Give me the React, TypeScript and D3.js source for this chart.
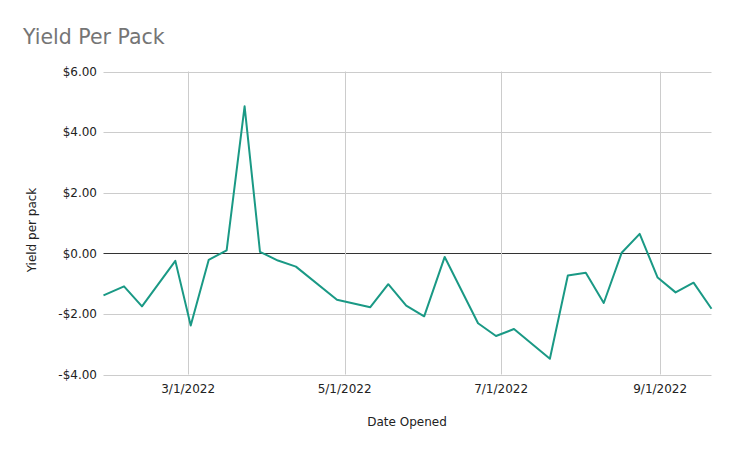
import React from "react";
import * as d3 from "d3";

const dates: string[] = [
  "2022-01-27", "2022-02-04", "2022-02-11", "2022-02-24", "2022-03-02",
  "2022-03-09", "2022-03-16", "2022-03-23", "2022-03-29", "2022-04-05",
  "2022-04-12", "2022-04-28", "2022-05-11", "2022-05-18", "2022-05-25",
  "2022-06-01", "2022-06-09", "2022-06-22", "2022-06-29", "2022-07-06",
  "2022-07-20", "2022-07-27", "2022-08-03", "2022-08-10", "2022-08-17",
  "2022-08-24", "2022-08-31", "2022-09-07", "2022-09-14", "2022-09-21",
];
const yields: number[] = [
  -1.39, -1.09, -1.75, -0.25, -2.38,
  -0.22, 0.1, 4.85, 0.05, -0.24,
  -0.44, -1.53, -1.78, -1.02, -1.73,
  -2.08, -0.12, -2.31, -2.73, -2.5,
  -3.48, -0.73, -0.64, -1.64, 0.02,
  0.64, -0.8, -1.29, -0.97, -1.83,
];
const yTicks: number[] = [-4, -2, 0, 2, 4, 6];
const xTickDates: string[] = ["2022-03-01", "2022-05-01", "2022-07-01", "2022-09-01"];
const xTickLabels: string[] = ["3/1/2022", "5/1/2022", "7/1/2022", "9/1/2022"];

const W = 734;
const H = 453;
const M = { left: 103.5, right: 711.5, top: 71.5, bottom: 374.5 };
const FONT = "'DejaVu Sans', Verdana, sans-serif";

const parse = (s: string) => {
  const [y, m, d] = s.split("-").map(Number);
  return new Date(y, m - 1, d);
};

export default function App() {
  const pts = dates.map((d, i) => ({ date: parse(d), value: yields[i] }));
  const x = d3
    .scaleTime()
    .domain(d3.extent(pts, (p) => p.date) as [Date, Date])
    .range([M.left, M.right]);
  const y = d3.scaleLinear().domain([-4, 6]).range([M.bottom, M.top]);
  const line = d3
    .line<{ date: Date; value: number }>()
    .x((p) => x(p.date))
    .y((p) => y(p.value));
  const fmt = (v: number) => (v < 0 ? "-$" : "$") + Math.abs(v).toFixed(2);

  return (
    <svg
      width={W}
      height={H}
      style={{ position: "absolute", left: 0, top: 0, background: "#fff" }}
      fontFamily={FONT}
    >
      <text x={23} y={44} fontSize={20.5} fill="#757575">
        Yield Per Pack
      </text>
      {yTicks.map((t) => (
        <g key={t}>
          <line
            x1={M.left}
            x2={M.right}
            y1={Math.round(y(t)) + 0.5}
            y2={Math.round(y(t)) + 0.5}
            stroke={t === 0 ? "#333333" : "#cccccc"}
            strokeWidth={1}
          />
          <text
            x={97}
            y={y(t)}
            dy="0.35em"
            textAnchor="end"
            fontSize={12}
            fill="#222"
          >
            {fmt(t)}
          </text>
        </g>
      ))}
      {xTickDates.map((d, i) => (
        <g key={d}>
          <line
            x1={Math.round(x(parse(d))) + 0.5}
            x2={Math.round(x(parse(d))) + 0.5}
            y1={M.top}
            y2={M.bottom}
            stroke="#cccccc"
          />
          <text
            x={x(parse(d))}
            y={393}
            textAnchor="middle"
            fontSize={12}
            fill="#222"
          >
            {xTickLabels[i]}
          </text>
        </g>
      ))}
      <path d={line(pts) ?? ""} fill="none" stroke="#1a9985" strokeWidth={2} strokeLinejoin="round" />
      <text
        x={407}
        y={426}
        textAnchor="middle"
        fontSize={12}
        fill="#222"
      >
        Date Opened
      </text>
      <text
        transform={`translate(36,${230}) rotate(-90)`}
        textAnchor="middle"
        fontSize={12}
        fill="#222"
      >
        Yield per pack
      </text>
    </svg>
  );
}
